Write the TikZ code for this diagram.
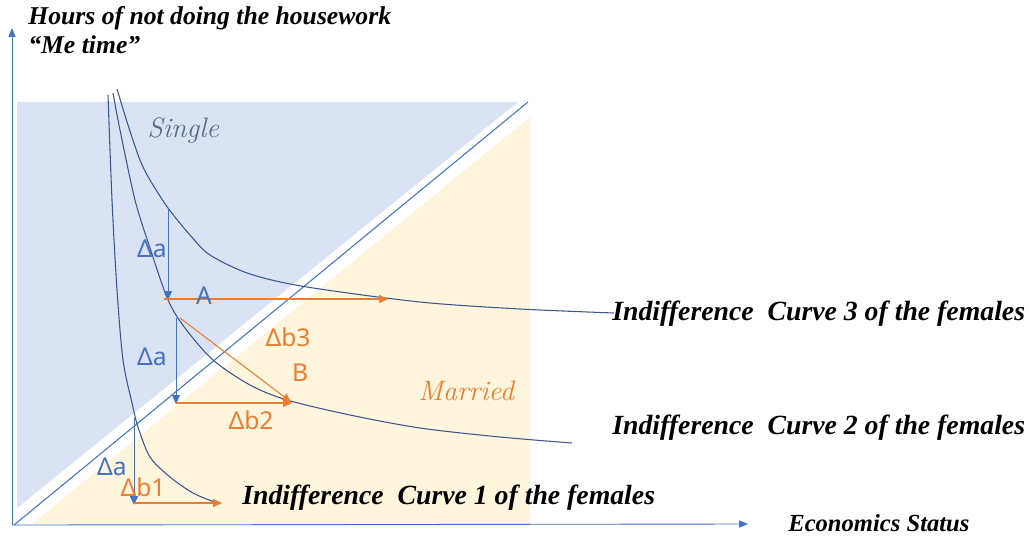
\documentclass[tikz,border=0pt]{standalone}
\usepackage{fontspec}
\setmainfont{Liberation Serif}
\newfontfamily\deltafont{Noto Sans}
\newfontfamily\regionfont{Latin Modern Roman}
\usetikzlibrary{arrows.meta,positioning}
\definecolor{singleblue}{HTML}{DAE3F3}
\definecolor{marriedyellow}{HTML}{FFF4DC}
\definecolor{linkblue}{HTML}{4472C4}
\definecolor{curveblue}{HTML}{3A5590}
\definecolor{deltaorange}{HTML}{ED7D31}
\definecolor{singlegray}{HTML}{5B6B85}

\begin{document}
\begin{tikzpicture}[x=0.02cm,y=-0.02cm,
    indiff/.style={curveblue,line width=0.6pt},
    downarrow/.style={linkblue,line width=0.5pt,-{Triangle[length=5pt,width=4.5pt]}},
    gainarrow/.style={deltaorange,line width=0.6pt,-{Triangle[length=5pt,width=4.5pt]}},
    axisline/.style={linkblue,line width=0.5pt,-{Triangle[length=5pt,width=4pt]}},
    curvelabel/.style={font=\fontsize{15.8}{17}\selectfont\bfseries\itshape,anchor=west,inner sep=0pt},
    axislabel/.style={font=\bfseries\itshape,anchor=west,inner sep=0pt},
    regionlabel/.style={font=\regionfont\fontsize{16}{18}\selectfont\itshape,anchor=west,inner sep=0pt},
    deltalabel/.style={font=\deltafont\fontsize{14}{16}\selectfont,inner sep=0pt}]
  \useasboundingbox (0,0) rectangle (1030,535);
  \fill[singleblue] (17,102) -- (518,102) -- (17,508) -- cycle;
  \fill[marriedyellow] (32,524) -- (530,117) -- (530,524) -- cycle;
  \coordinate (origin) at (12,525);
  \coordinate (ytip) at (12,28);
  \coordinate (xtip) at (748,524);
  \draw[axisline] (origin) -- (ytip);
  \draw[axisline] (origin) -- (xtip);
  \coordinate (diagstart) at (14,525);
  \coordinate (diagend) at (528,102);
  \draw[linkblue,line width=0.6pt] (diagstart) -- (diagend);
  \draw[indiff] plot[smooth] coordinates {(108,95) (112,200) (117,290) (123,360) (132,403) (138,427) (150,457) (170,477) (193,493) (217,503)};
  \draw[indiff] plot[smooth] coordinates {(113,93) (120,130) (135,200) (150,248) (168,300) (185,328) (213,360) (250,385) (287,400) (350,415) (420,428) (500,437) (572,443)};
  \draw[indiff] plot[smooth] coordinates {(117,89) (128,125) (140,160) (150,180) (168,208) (190,235) (210,255) (250,274) (307,287) (420,302) (520,309) (614,313)};
  \coordinate (a1top) at (168,208);
  \coordinate (A) at (168,300);
  \coordinate (Astart) at (164,299);
  \coordinate (Aend) at (388,299);
  \coordinate (a2top) at (176,318);
  \coordinate (a2bot) at (176,404);
  \coordinate (diagtop) at (180,318);
  \coordinate (B) at (291,402);
  \coordinate (b2start) at (176,403);
  \coordinate (b2end) at (292,403);
  \coordinate (a3top) at (134,418);
  \coordinate (a3bot) at (134,505);
  \coordinate (b1start) at (134,503);
  \coordinate (b1end) at (222,503);
  \draw[downarrow] (a1top) -- (A);
  \draw[gainarrow] (Astart) -- (Aend);
  \draw[downarrow] (a2top) -- (a2bot);
  \draw[gainarrow] (diagtop) -- (B);
  \draw[gainarrow] (b2start) -- (b2end);
  \draw[downarrow] (a3top) -- (a3bot);
  \draw[gainarrow] (b1start) -- (b1end);
  \node[deltalabel,linkblue] (da1) at (152,249) {Δa};
  \node[deltalabel,linkblue] (Alabel) at (204,296) {A};
  \node[deltalabel,linkblue] (da2) at (152,357) {Δa};
  \node[deltalabel,deltaorange] (db3) at (288,337) {Δb3};
  \node[deltalabel,deltaorange] (Blabel) at (300,373) {B};
  \node[deltalabel,deltaorange] (db2) at (251,420) {Δb2};
  \node[deltalabel,linkblue] (da3) at (112,467) {Δa};
  \node[deltalabel,deltaorange] (db1) at (143,487) {Δb1};
  \node[regionlabel,singlegray] (single) at (147,130) {Single};
  \node[regionlabel,deltaorange] (married) at (418,391) {Married};
  \node[curvelabel] (ic3) at (612,314) {Indifference\ \ Curve 3 of the females};
  \node[curvelabel] (ic2) at (612,428) {Indifference\ \ Curve 2 of the females};
  \node[curvelabel] (ic1) at (242,498) {Indifference\ \ Curve 1 of the females};
  \node[axislabel,font=\fontsize{14.6}{16}\selectfont\bfseries\itshape] (yname) at (28,18) {Hours of not doing the housework};
  \node[axislabel,font=\fontsize{14.6}{16}\selectfont\bfseries\itshape] (metime) at (28,45) {``Me time''};
  \node[axislabel,font=\fontsize{14}{15}\selectfont\bfseries\itshape] (xname) at (788,523) {Economics Status};
\end{tikzpicture}
\end{document}
